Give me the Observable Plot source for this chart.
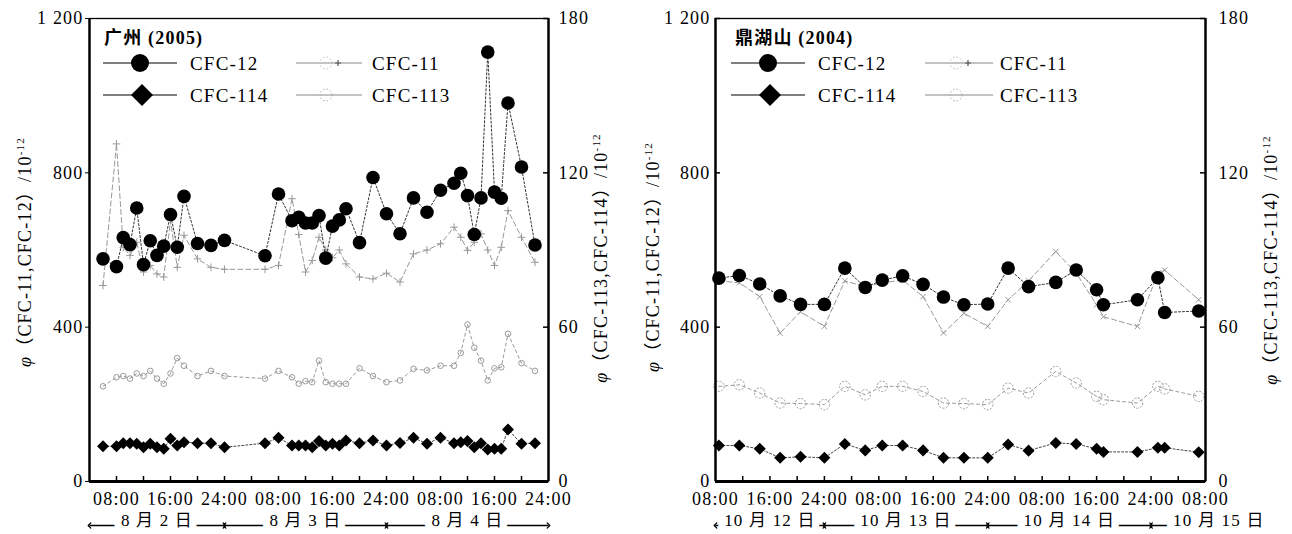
<!DOCTYPE html>
<html><head><meta charset="utf-8">
<script src="https://cdn.jsdelivr.net/npm/d3@7"></script>
<script src="https://cdn.jsdelivr.net/npm/@observablehq/plot@0.6"></script>
<style>
html,body{margin:0;padding:0;background:#fff;}
#fig{position:relative;width:1292px;height:534px;overflow:hidden;background:#fff;}
.panel{position:absolute;top:0;width:646px;height:534px;}
.panel svg{position:absolute;left:0;top:0;overflow:visible;}
</style></head>
<body><div id="fig"></div>
<script>
// ---------- Guangzhou (2005): hours after 2005-08-02 00:00 ----------
const gzTitle = "广州 (2005)";
const gzHours = [6,8,9,10,11,12,13,14,15,16,17,18,20,22,24,30,32,34,35,36,37,38,39,40,41,42,44,46,48,50,52,54,56,58,59,60,61,62,63,64,65,66,68,70];
const gzCFC12 = [577,557,632,614,709,562,624,586,610,692,607,739,617,612,625,585,745,676,685,670,670,689,579,662,678,707,619,788,694,642,735,698,755,773,799,741,640,735,1113,750,734,981,815,613];
const gzCFC11 = [508,875,607,586,620,543,560,538,530,676,555,638,577,555,550,550,560,733,640,543,573,633,600,580,600,564,530,525,540,517,590,600,616,659,633,599,620,642,600,560,607,702,633,568];
const gzCFC113 = [37,40.5,41,40,42,41,43,40,38,42,48,45,41,43,41,40,43,40.5,38,39,38.6,47,38.6,38,38,38,44,41,38.6,39.3,43.8,43.2,45,45,50,61,52,47,39.3,44,44.4,57.4,46,43];
const gzCFC114 = [13.7,13.7,14.9,14.9,14.7,13.3,14.7,13.3,12.7,16.6,14,15.3,14.9,14.9,13.3,14.9,17,14,14,14,13.3,15.7,14,14.7,14,15.9,14.9,15.9,14,15,17,14.7,17,14.9,15.3,15.7,13.3,14.9,12.4,12.7,12.7,20.2,14.7,14.9];
const gzDays = ["8 月 2 日","8 月 3 日","8 月 4 日"];
const gzDayBounds = [4,24,48,72];
const gzDomain = [4,72];
const gzLabelHours = [8,16,24,32,40,48,56,64,72];
const gzTickHours = [8,12,16,20,24,28,32,36,40,44,48,52,56,60,64,68];

// ---------- Dinghushan (2004): hours after 2004-10-12 08:00 ----------
const dhTitle = "鼎湖山 (2004)";
const dhHours = [0.5,3.5,6.5,9.5,12.5,16,19,22,24.5,27.5,30.5,33.5,36.5,40,43,46,50,53,56,57,62,65,66,71];
const dhCFC12 = [527,534,512,481,459,459,553,503,522,533,511,478,458,460,553,505,516,548,497,458,471,528,438,442];
const dhCFC11 = [520,515,479,385,440,402,520,505,515,522,479,385,436,402,471,520,596,540,458,427,402,540,548,471];
const dhCFC113 = [37,37.6,34.4,30.5,30.3,29.9,37,33.7,37,37,35,30.5,30.3,29.9,36.3,34.4,42.8,38.3,33.1,31.8,30.5,37,36,33.1];
const dhCFC114 = [14,14,12.7,9.2,9.6,9.2,14.6,12.1,14,14,12.1,9.2,9.2,9.2,14.4,12,15,14.6,12.7,11.5,11.5,13.1,13.1,11.4];
const dhDays = ["10 月 12 日","10 月 13 日","10 月 14 日","10 月 15 日"];
const dhDayBounds = [0,16,40,64,72];
const dhDomain = [0,72];
const dhLabelHours = [0,8,16,24,32,40,48,56,64,72];
const dhTickHours = [4,8,12,16,20,24,28,32,36,40,44,48,52,56,60,64,68];

const leftTicks = [0,400,800,1200];
const rightTicks = [0,60,120,180];
const leftTitle = "CFC-11,CFC-12";
const rightTitle = "CFC-113,CFC-114";
const seriesNames = ["CFC-12","CFC-11","CFC-114","CFC-113"];

const FONT = "'Liberation Serif','Times New Roman','Noto Sans CJK SC',serif";
const HOUR = 3600e3;
const W = 646, H = 534, MT = 18, MB = 53;
const diamond = {draw(ctx, size){ const s = Math.sqrt(size/2); ctx.moveTo(0,-s); ctx.lineTo(s,0); ctx.lineTo(0,s); ctx.lineTo(-s,0); ctx.closePath(); }};
const fmtLeft = d => d >= 1000 ? d3.format(",")(d).replace(",", " ") : String(d);
const hhmm = d => { const h = d.getUTCHours(); return (h === 0 ? "24" : String(h).padStart(2,"0")) + ":00"; };

function buildPanel(c) {
  const fw = W - c.mL - c.mR, fh = H - MT - MB;
  const T = h => new Date(c.t0 + h * HOUR);
  const rows = c.hours.map((h,i) => ({t: T(h), c12: c.s12[i], c11: c.s11[i], c113: c.s113[i], c114: c.s114[i]}));
  const days = c.days.map((label,i) => ({label, a: T(c.bounds[i]), b: T(c.bounds[i+1]), m: T((c.bounds[i]+c.bounds[i+1])/2)}));
  const closed = c.openLast ? days.slice(0,-1) : days;
  const open = c.openLast ? days.slice(-1) : [];
  const xdom = [T(c.domain[0]), T(c.domain[1])];
  const style = {background:"transparent", fontFamily: FONT, fontSize:"18px", color:"#000", overflow:"visible", letterSpacing:"1.2px"};
  const base = {width: W, height: H, marginLeft: c.mL, marginRight: c.mR, marginTop: MT, marginBottom: MB, style};
  const DY = 44;
  const halo = {frameAnchor:"bottom", dy: DY, fontSize: 17, stroke:"white", strokeWidth: 15, strokeLinejoin:"round", fill:"#000", paintOrder:"stroke"};

  const A = Plot.plot({...base,
    x: {type:"utc", domain: xdom},
    y: {domain: [0,1200]},
    marks: [
      Plot.frame({stroke:"#000", strokeWidth: 1.3}),
      Plot.ruleX(xdom, {strokeWidth: 2.4}),
      Plot.ruleY([0], {strokeWidth: 2.8}),
      Plot.tickX(c.tickHours.map(T), {x: d => d, insetTop: fh - 5, strokeWidth: 1.5}),
      c.leftInward ? Plot.tickY(leftTicks, {y: d => d, insetRight: fw - 5, strokeWidth: 1.5}) : null,
      Plot.axisY({ticks: leftTicks, tickFormat: fmtLeft, tickSize: c.leftInward ? 0 : 4, tickPadding: c.leftInward ? 5 : 2, label: null}),
      Plot.axisX({ticks: c.labelHours.map(T), tickFormat: hhmm, tickSize: 0, tickPadding: 11, label: null}),
      Plot.line(rows, {x:"t", y:"c11", stroke:"#999", strokeWidth: 1, strokeDasharray:"5,3"}),
      Plot.dot(rows, {x:"t", y:"c11", symbol: c.sym11, r: 2.6, stroke:"#999", strokeWidth: 1}),
      Plot.line(rows, {x:"t", y:"c12", stroke:"#333", strokeWidth: 1, strokeDasharray:"2,2"}),
      Plot.dot(rows, {x:"t", y:"c12", r: 6.8, fill:"#000"}),
      Plot.link(closed, {x1:"a", x2:"b", y1: () => 0, y2: () => 0, dy: DY, stroke:"#000", strokeWidth: 1.3, markerStart:"arrow-reverse", markerEnd:"arrow"}),
      Plot.link(open, {x1:"a", x2:"b", y1: () => 0, y2: () => 0, dy: DY, stroke:"#000", strokeWidth: 1.3, markerStart:"arrow-reverse"}),
      Plot.text(closed, {x:"m", text:"label", ...halo}),
      Plot.text(open, {x:"a", text:"label", textAnchor:"start", dx: 22, ...halo})
    ]
  });

  const B = Plot.plot({...base,
    x: {type:"utc", domain: xdom, axis: null},
    y: {domain: [0,180]},
    marks: [
      Plot.tickY(rightTicks, {y: d => d, insetLeft: fw - 5, strokeWidth: 1.5}),
      Plot.axisY({anchor:"right", ticks: rightTicks, tickSize: 0, tickPadding: c.rPad, label: null}),
      Plot.line(rows, {x:"t", y:"c113", stroke:"#9a9a9a", strokeWidth: 1, strokeDasharray:"3,3"}),
      Plot.dot(rows, {x:"t", y:"c113", r: c.r113, stroke:"#9a9a9a", strokeWidth: 1, fill:"none", strokeDasharray: c.r113 > 4 ? "2,1.5" : null}),
      Plot.line(rows, {x:"t", y:"c114", stroke:"#444", strokeWidth: 1, strokeDasharray:"2,2"}),
      Plot.dot(rows, {x:"t", y:"c114", symbol: diamond, r: 4.8, fill:"#000"})
    ]
  });

  const div = document.createElement("div");
  div.className = "panel";
  div.style.left = c.offset + "px";
  div.appendChild(B);
  div.appendChild(A);
  document.getElementById("fig").appendChild(div);

  // legend + axis titles
  const g = d3.select(A).append("g").attr("font-family", FONT).attr("fill", "#000").attr("text-anchor", "start");
  const L = c.lg;
  g.append("text").attr("x", L.titleX).attr("y", 38).attr("dy", "0.35em").attr("font-size", 18).attr("font-weight", "bold").text(c.title);
  // CFC-12
  g.append("line").attr("x1", L.x1).attr("x2", L.x2).attr("y1", 63).attr("y2", 63).attr("stroke", "#000").attr("stroke-width", 1.2);
  g.append("circle").attr("cx", L.mk).attr("cy", 63).attr("r", 9).attr("fill", "#000");
  g.append("text").attr("x", L.tx).attr("y", 63).attr("dy", "0.35em").attr("font-size", 19).text(seriesNames[0]);
  // CFC-114
  g.append("line").attr("x1", L.x1).attr("x2", L.x2).attr("y1", 95).attr("y2", 95).attr("stroke", "#000").attr("stroke-width", 1.2);
  g.append("path").attr("transform", `translate(${L.mk + 2},95)`).attr("d", "M0,-11L11,0L0,11L-11,0Z").attr("fill", "#000");
  g.append("text").attr("x", L.tx).attr("y", 95).attr("dy", "0.35em").attr("font-size", 19).text(seriesNames[2]);
  // CFC-11
  g.append("line").attr("x1", L.x1b).attr("x2", L.x2b).attr("y1", 63).attr("y2", 63).attr("stroke", "#888").attr("stroke-width", 1.2);
  g.append("path").attr("transform", `translate(${L.mkb},63)`).attr("d", "M-3,0H3M0,-3V3").attr("stroke", "#555").attr("stroke-width", 1.2);
  g.append("circle").attr("cx", L.mkb - 12).attr("cy", 63).attr("r", 6).attr("fill", "none").attr("stroke", "#bbb").attr("stroke-dasharray", "1.5,2");
  g.append("text").attr("x", L.txb).attr("y", 63).attr("dy", "0.35em").attr("font-size", 19).text(seriesNames[1]);
  // CFC-113
  g.append("line").attr("x1", L.x1b).attr("x2", L.x2b).attr("y1", 95).attr("y2", 95).attr("stroke", "#888").attr("stroke-width", 1.2);
  g.append("circle").attr("cx", L.mkb - 12).attr("cy", 95).attr("r", 6).attr("fill", "none").attr("stroke", "#aaa").attr("stroke-dasharray", "1.5,2");
  g.append("text").attr("x", L.txb).attr("y", 95).attr("dy", "0.35em").attr("font-size", 19).text(seriesNames[3]);

  const yTitle = (x, y, inner) => {
    const t = g.append("text").attr("transform", `translate(${x},${y}) rotate(-90)`).attr("text-anchor", "middle").attr("dy", "0.35em").attr("font-size", 18).attr("letter-spacing", "1.2px");
    t.append("tspan").attr("font-style", "italic").text("φ");
    t.append("tspan").text(`（${inner}）/10`);
    t.append("tspan").attr("font-size", 11).attr("dy", -7).text("-12");
  };
  yTitle(c.ltX, c.ltY, leftTitle);
  yTitle(c.rtX, c.rtY, rightTitle);
}

buildPanel({
  offset: 0, mL: 89, mR: 98, t0: Date.UTC(2005,7,2),
  hours: gzHours, s12: gzCFC12, s11: gzCFC11, s113: gzCFC113, s114: gzCFC114,
  days: gzDays, bounds: gzDayBounds, domain: gzDomain, labelHours: gzLabelHours, tickHours: gzTickHours,
  openLast: false, leftInward: false, rPad: 10, sym11: "plus", r113: 2.8, title: gzTitle,
  lg: {titleX: 104, x1: 103, x2: 177, mk: 140, tx: 190, x1b: 296, x2b: 362, mkb: 338, txb: 372},
  ltX: 25, ltY: 252, rtX: 601, rtY: 258
});
buildPanel({
  offset: 646, mL: 69, mR: 87, t0: Date.UTC(2004,9,12,8),
  hours: dhHours, s12: dhCFC12, s11: dhCFC11, s113: dhCFC113, s114: dhCFC114,
  days: dhDays, bounds: dhDayBounds, domain: dhDomain, labelHours: dhLabelHours, tickHours: dhTickHours,
  openLast: true, leftInward: true, rPad: 13, sym11: "times", r113: 5.2, title: dhTitle,
  lg: {titleX: 89, x1: 85, x2: 159, mk: 122, tx: 172, x1b: 279, x2b: 347, mkb: 322, txb: 354},
  ltX: 7, ltY: 257, rtX: 625, rtY: 260
});
</script></body></html>
